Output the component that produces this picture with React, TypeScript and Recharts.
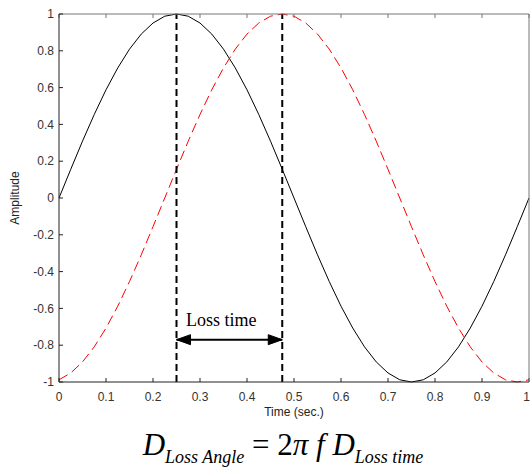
import React from 'react';
import { LineChart, Line, XAxis, YAxis, ReferenceLine, ReferenceDot } from 'recharts';

const times = [0, 0.025, 0.05, 0.075, 0.1, 0.125, 0.15, 0.175, 0.2, 0.225, 0.25, 0.275, 0.3, 0.325, 0.35, 0.375, 0.4, 0.425, 0.45, 0.475, 0.5, 0.525, 0.55, 0.575, 0.6, 0.625, 0.65, 0.675, 0.7, 0.725, 0.75, 0.775, 0.8, 0.825, 0.85, 0.875, 0.9, 0.925, 0.95, 0.975, 1];
const blackWave = [0, 0.156, 0.309, 0.454, 0.588, 0.707, 0.809, 0.891, 0.951, 0.988, 1, 0.988, 0.951, 0.891, 0.809, 0.707, 0.588, 0.454, 0.309, 0.156, 0, -0.156, -0.309, -0.454, -0.588, -0.707, -0.809, -0.891, -0.951, -0.988, -1, -0.988, -0.951, -0.891, -0.809, -0.707, -0.588, -0.454, -0.309, -0.156, 0];
const redWave = [-0.988, -0.951, -0.891, -0.809, -0.707, -0.588, -0.454, -0.309, -0.156, 0, 0.156, 0.309, 0.454, 0.588, 0.707, 0.809, 0.891, 0.951, 0.988, 1, 0.988, 0.951, 0.891, 0.809, 0.707, 0.588, 0.454, 0.309, 0.156, 0, -0.156, -0.309, -0.454, -0.588, -0.707, -0.809, -0.891, -0.951, -0.988, -1, -0.988];

const xTicks = [0, 0.1, 0.2, 0.3, 0.4, 0.5, 0.6, 0.7, 0.8, 0.9, 1];
const yTicks = [-1, -0.8, -0.6, -0.4, -0.2, 0, 0.2, 0.4, 0.6, 0.8, 1];

const lossStart = 0.25;
const lossEnd = 0.475;
const arrowLevel = -0.77;
const lossLabel = 'Loss time';
const lossLabelPos = { t: 0.345, a: -0.663 };

const data = times.map((t, i) => ({ t, black: blackWave[i], red: redWave[i] }));
const arrowData = [
  { t: lossStart, a: arrowLevel },
  { t: lossEnd, a: arrowLevel },
];

const fmt = (v: number) => String(v);

const ArrowHead = (props: any) => {
  const { cx, cy, index } = props;
  if (cx == null || cy == null) return null;
  const len = 14;
  const half = 5;
  const dir = index === 0 ? 1 : -1;
  const pts = `${cx},${cy} ${cx + dir * len},${cy - half} ${cx + dir * len},${cy + half}`;
  return <polygon key={`ah-${index}`} points={pts} fill="#000" stroke="#000" />;
};

const sans = 'Arial, "Liberation Sans", sans-serif';
const tickStyle = { fontFamily: sans, fontSize: 12, fill: '#333' };
const serif = '"Times New Roman", "Liberation Serif", serif';

const XTick = (props: any) => {
  const { x, y, payload } = props;
  const isLast = payload.value === xTicks[xTicks.length - 1];
  return (
    <text
      x={isLast ? x + 1 : x}
      y={y}
      dy="0.71em"
      textAnchor={isLast ? 'end' : 'middle'}
      fontFamily={sans}
      fontSize={12}
      fill="#333"
    >
      {fmt(payload.value)}
    </text>
  );
};

export default function App() {
  return (
    <div style={{ position: 'absolute', left: 0, top: 0, width: 530, height: 470, background: '#fff' }}>
      <LineChart width={530} height={470} data={data} margin={{ top: 13, right: 0, left: 0, bottom: 0 }}>
        <XAxis
          dataKey="t"
          type="number"
          domain={[0, 1]}
          ticks={xTicks}
          interval={0}
          height={88}
          tickSize={-4}
          tickMargin={14}
          stroke="#222"
          tick={<XTick />}
          label={{ value: 'Time (sec.)', position: 'insideTop', offset: 25, style: { fontFamily: sans, fontSize: 12, fill: '#222' } }}
        />
        <XAxis
          xAxisId="top"
          orientation="top"
          dataKey="t"
          type="number"
          domain={[0, 1]}
          ticks={xTicks}
          tickFormatter={() => ''}
          height={1}
          tickSize={-4}
          stroke="#777"
        />
        <YAxis
          type="number"
          domain={[-1, 1]}
          ticks={yTicks}
          tickFormatter={fmt}
          interval={0}
          width={59}
          tickSize={-4}
          tickMargin={9}
          stroke="#222"
          tick={tickStyle}
          label={{ value: 'Amplitude', angle: -90, position: 'center', dx: -15, style: { fontFamily: sans, fontSize: 12, fill: '#222' } }}
        />
        <YAxis
          yAxisId="right"
          orientation="right"
          type="number"
          domain={[-1, 1]}
          ticks={yTicks}
          tickFormatter={() => ''}
          width={1}
          tickSize={-4}
          stroke="#777"
        />
        <Line dataKey="black" stroke="#000" strokeWidth={1} dot={false} isAnimationActive={false} type="linear" />
        <Line dataKey="red" stroke="#ff0000" strokeWidth={1} strokeDasharray="10 5" dot={false} isAnimationActive={false} type="linear" />
        <ReferenceLine x={lossStart} stroke="#000" strokeWidth={2} strokeDasharray="7 4" />
        <ReferenceLine x={lossEnd} stroke="#000" strokeWidth={2} strokeDasharray="7 4" />
        <Line data={arrowData} dataKey="a" stroke="#000" strokeWidth={2} dot={<ArrowHead />} isAnimationActive={false} type="linear" />
        <ReferenceDot
          x={lossLabelPos.t}
          y={lossLabelPos.a}
          r={0}
          fill="none"
          stroke="none"
          label={{ value: lossLabel, position: 'center', style: { fontFamily: serif, fontSize: 18, fill: '#000' } }}
        />
        <text x={283} y={455} textAnchor="middle" fontFamily={serif} fill="#000">
          <tspan fontSize={31} fontStyle="italic">D</tspan>
          <tspan fontSize={18} fontStyle="italic" dy={8}>Loss Angle</tspan>
          <tspan fontSize={31} dy={-8}>{' = 2'}</tspan>
          <tspan fontSize={31} fontStyle="italic">{'π f D'}</tspan>
          <tspan fontSize={18} fontStyle="italic" dy={8}>Loss time</tspan>
        </text>
      </LineChart>
    </div>
  );
}
